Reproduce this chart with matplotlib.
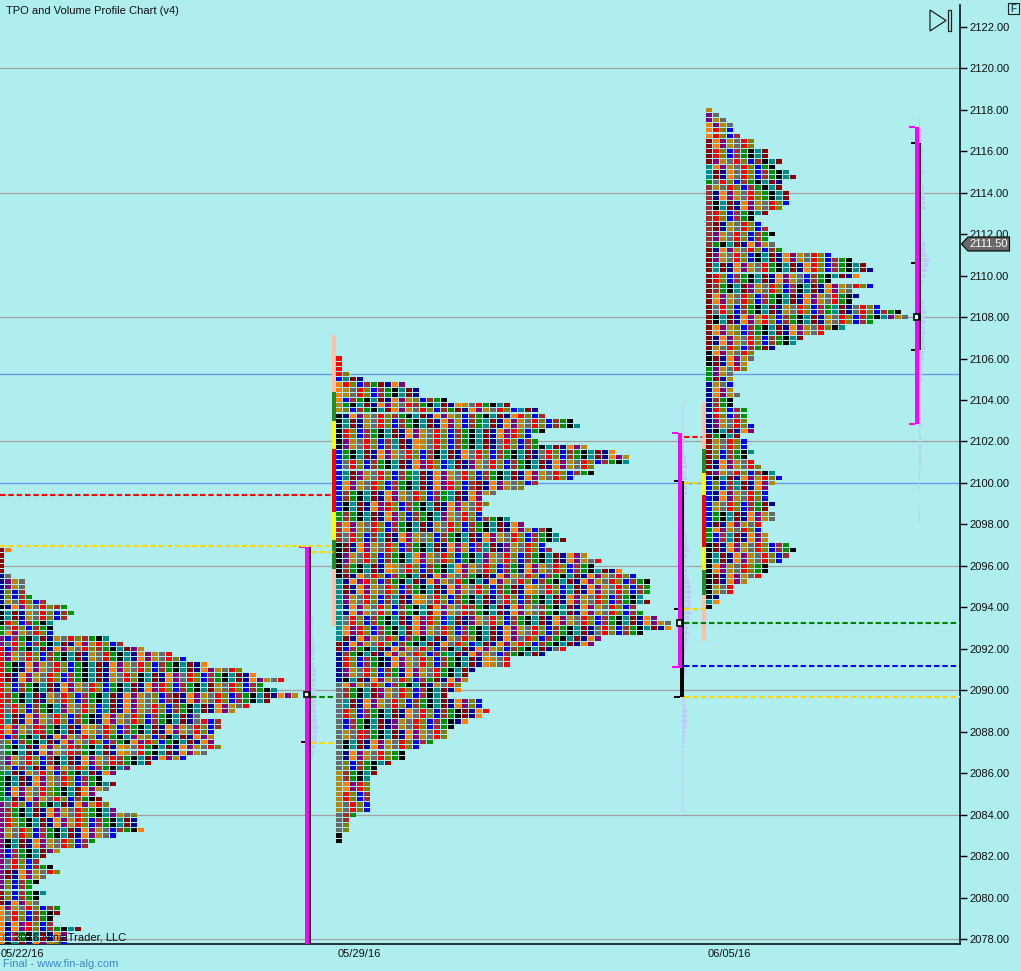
import matplotlib
matplotlib.use("Agg")
import matplotlib.pyplot as plt
from matplotlib.patches import Polygon, Rectangle

plt.rcParams['font.family'] = ['Liberation Sans', 'DejaVu Sans']

W, H = 1021, 971
BG = '#AFEEEE'

# ---- data -----------------------------------------------------------
# Row lengths (number of TPO cells) from the highest price downward
tpo_may22 = [2,1,1,1,1,2,4,4,4,5,7,10,11,10,8,8,8,16,18,21,25,27,30,35,37,41,38,40,43,39,
             36,34,29,32,32,31,31,31,32,30,27,22,19,17,15,17,16,14,15,16,17,20,20,20,21,
             17,14,13,9,7,6,8,9,7,6,5,7,6,6,9,9,8,8,12,10,10,10]
tpo_may29 = [1,1,1,2,4,10,12,12,16,25,29,30,34,35,30,28,29,36,40,42,42,37,37,34,29,27,23,21,
             22,21,21,25,27,31,32,33,30,31,36,38,37,41,43,45,45,45,44,45,43,44,46,48,48,44,
             38,37,33,30,25,25,20,19,19,18,18,16,21,21,22,21,19,17,16,16,14,12,10,10,8,6,6,
             5,5,5,5,5,5,5,3,2,2,2,1,1]
tpo_jun05 = [1,2,3,4,4,5,7,7,9,9,11,10,12,13,11,11,12,12,12,11,9,7,8,9,10,9,10,11,18,21,23,24,
             22,18,24,21,22,21,25,28,29,24,20,17,14,13,10,7,7,6,6,4,4,4,4,5,4,4,6,6,6,7,7,5,
             6,6,7,6,7,8,10,11,10,9,9,9,10,9,10,10,8,8,9,9,12,13,12,11,9,9,8,6,4,4,2,2,1]
top_price = [2096.75, 2106.0, 2118.0]

# first-column colour runs (letter, rows)
runs_may22 = [('M',5),('N',6),('K',4),('G',2),('P',2),('R',18),('Y',6),('G',6),('P',17),('M',3),('O',8)]
runs_may29 = [('R',4),('B',1),('O',4),('D',2),('K',7),('B',12),('G',2),('W',4),('K',7),('T',12),
              ('M',2),('N',6),('Y',17),('D',8),('Y',4),('K',2)]
runs_jun05 = [('D',1),('P',2),('O',3),('M',5),('T',3),('G',1),('W',12),('M',20),('K',3),('G',3),
              ('N',10),('M',8),('B',10),('G',3),('K',11),('T',1),('K',3)]
color_cycle = list("WGKTMNOPDYRLB")
skip_points = [9, 14, 6, 21, 11, 17, 4, 25, 8, 19, 13, 3, 16, 23, 7]
row_jitter = [1, 0, 3, 1, 5, 2, 0, 7, 4, 1, 9, 3, 6, 0, 2, 11, 5, 8, 1, 4, 10]

# Volume profile lengths, top to bottom
vol_may22 = [4,4,4,4,5,6,6,5,5,5,7,7,7,6,6,7,7,7,7,7,8,9,8,8,8,6,5,4]
vol_may29 = [1,1,1,1,1,1,2,2,2,2,4,4,5,4,5,5,5,5,3,3,3,3,3,3,3,5,5,5,7,5,4,4,5,5,7,9,9,9,8,9,9,
             7,6,6,7,5,5,4,3,3,2,4,3,2,2,1,2,3,4,5,5,5,5,3,3,2,2,2,1,1,1,1,1,1,1,1,1,1,1]
vol_jun05 = [1,1,3,3,3,3,4,4,4,4,5,3,3,5,5,6,6,6,3,3,3,3,4,4,6,6,8,10,9,8,6,4,3,3,3,5,5,7,6,6,5,
             6,5,5,6,5,4,4,3,3,3,1,1,1,1,1,1,2,2,2,1,2,2,2,2,2,2,2,1,1,1,1,0,0,0,1,1,1]

grey_lines = [2120, 2114, 2108, 2102, 2096, 2090, 2084, 2078]
blue_lines = [2105.25, 2100]
y_ticks = list(range(2078, 2124, 2))
date_labels = ['05/22/16', '05/29/16', '06/05/16']

# ---- styles ----------------------------------------------------------
PALETTE = dict(W='#A52A2A', G='#009000', K='#000000', T='#008B8B', M='#8B0000', N='#000090',
               O='#FF8000', P='#800080', D='#B8860B', Y='#696969', R='#FF0000', L='#808000',
               B='#0000FF')
VOL = '#B9CDF5'; MAG = '#FF00FF'; YEL = '#FFD700'; PEACH = '#FFC0A8'

PX_PER_PT = 20.74
Y_AT_2122 = 26.7


def price(y):
    return 2122 - (y - Y_AT_2122) / PX_PER_PT


fig = plt.figure(figsize=(W / 100, H / 100), dpi=100, facecolor=BG)
TOP, BOT, RIGHT = 5, 944, 960
ax = fig.add_axes([0, 1 - BOT / H, RIGHT / W, (BOT - TOP) / H], facecolor=BG)
ax.set_xlim(0, RIGHT)
ax.set_ylim(price(BOT), price(TOP))
for s in ('top', 'left'):
    ax.spines[s].set_visible(False)
for s in ('bottom', 'right'):
    ax.spines[s].set_linewidth(1.1)
ax.xaxis.set_visible(False)
ax.yaxis.tick_right()
ax.set_yticks(y_ticks)
ax.set_yticklabels([f'{v:.2f}' for v in y_ticks], fontsize=8, color='#101010')
ax.tick_params(axis='y', length=5, width=1.0, pad=1.5, color='black')

for v in grey_lines:
    ax.axhline(v, color='#A0A0A0', lw=0.9, zorder=1)
for v in blue_lines:
    ax.axhline(v, color='#6495ED', lw=0.9, zorder=1)


def draw_tpo(lengths, top, x0, runs):
    starts = [c for c, n in runs for _ in range(n)]
    ys, ls, cs = [], [], []
    for r, n in enumerate(lengths):
        base = color_cycle.index(starts[min(r, len(starts) - 1)])
        block = r // 2
        s1 = skip_points[block % 15]
        s2 = skip_points[(block + 6) % 15] + 5
        s3 = skip_points[(block + 11) % 15] + 12
        jit = row_jitter[block % len(row_jitter)]
        for k in range(n):
            idx = base + k + (jit if k >= 1 else 0) + 2 * (k >= s1) + (k >= s2) + 3 * (k >= s3)
            ys.append(top - 0.25 * r)
            ls.append(x0 + 7 * k)
            cs.append(PALETTE[color_cycle[idx % 13]])
    ax.barh(ys, [6] * len(ys), left=ls, height=0.2, color=cs, linewidth=0, zorder=3, antialiased=False)


draw_tpo(tpo_may22, top_price[0], -2, runs_may22)
draw_tpo(tpo_may29, top_price[1], 336, runs_may29)
draw_tpo(tpo_jun05, top_price[2], 706, runs_jun05)


def draw_vol(vals, top, x0):
    ys = [top - 0.25 * i for i in range(len(vals))]
    ax.barh(ys, vals, left=x0, height=0.2, color=VOL, linewidth=0, zorder=2, antialiased=False)


draw_vol(vol_may22, 2093.5, 309)
draw_vol(vol_may29, 2103.75, 682)
draw_vol(vol_jun05, 2117.5, 919)


def vbar(x0, x1, p0, p1, color, z=4):
    ax.add_patch(Rectangle((x0, p1), x1 - x0, p0 - p1, facecolor=color, edgecolor='none', zorder=z, antialiased=False))


def dash(x0, x1, p, color):
    ax.plot([x0, x1], [p, p], color=color, lw=1.5, ls=(0, (2.6, 1.4)), zorder=5)


def hline(x0, x1, p, color='black', lw=1.44):
    ax.plot([x0, x1], [p, p], color=color, lw=lw, solid_capstyle='butt', zorder=5)


def poc(x0, x1, p):
    ax.add_patch(Rectangle((x0 + 1, p - 0.14), x1 - x0 - 2, 0.28, facecolor='#E8FFFF', edgecolor='black',
                           lw=1.2, zorder=7))


# left range bars
for x0, x1, segs in [
    (332, 336, [(2107.15, 2104.4, PEACH), (2104.4, 2103, '#228B22'), (2103, 2101.65, '#FFFF00'),
                (2101.65, 2098.6, '#FF0000'), (2098.6, 2097.25, '#FFFF00'),
                (2097.25, 2095.85, '#228B22'), (2095.85, 2093.1, PEACH)]),
    (702, 706, [(2103.9, 2101.65, PEACH), (2101.65, 2100.5, '#228B22'), (2100.5, 2099.4, '#FFFF00'),
                (2099.4, 2096.9, '#FF0000'), (2096.9, 2095.8, '#FFFF00'),
                (2095.8, 2094.6, '#228B22'), (2094.6, 2092.4, PEACH)]),
]:
    for p0, p1, c in segs:
        vbar(x0, x1, p0, p1, c)

# May 22 right side
vbar(305, 309, 2096.93, 2077.0, MAG)
vbar(309, 311, 2096.93, 2077.0, 'black')
hline(299, 305, 2096.93, MAG)
hline(301, 305, 2087.5)
poc(303, 310, 2089.8)
dash(0, 332, 2096.97, YEL)
dash(311, 336, 2096.68, YEL)
dash(0, 332, 2099.43, '#FF0000')
dash(311, 336, 2089.7, '#008000')
dash(311, 336, 2087.47, YEL)

# May 29 right side
vbar(678, 682, 2102.4, 2091.1, MAG)
vbar(682, 684, 2100.1, 2091.1, 'black')
vbar(680, 684, 2091.1, 2089.7, 'black')
hline(672, 678, 2102.4, MAG)
hline(672, 678, 2091.15, MAG)
hline(674, 680, 2089.7)
hline(674, 678, 2100.1)
hline(674, 678, 2093.9)
poc(676, 683, 2093.25)
dash(684, 960, 2093.25, '#008000')
dash(684, 960, 2091.19, '#0000FF')
dash(684, 960, 2089.7, YEL)
dash(684, 706, 2093.94, YEL)
dash(684, 702, 2099.98, YEL)
dash(684, 702, 2102.24, '#FF0000')

# Jun 05 right side
vbar(915, 919, 2117.14, 2102.86, MAG)
vbar(919, 921, 2116.4, 2106.4, 'black')
hline(909, 915, 2117.14, MAG)
hline(909, 915, 2102.86, MAG)
for p in (2116.4, 2110.6, 2106.4):
    hline(911, 915, p)
poc(913, 920, 2108)

# ---- overlay in figure pixels ----------------------------------------
ov = fig.add_axes([0, 0, 1, 1], facecolor='none')
ov.set_xlim(0, W)
ov.set_ylim(H, 0)
ov.axis('off')

ov.text(6, 11, 'TPO and Volume Profile Chart (v4)', fontsize=8.0, color='#101010', va='center', ha='left')
ov.text(3, 938, '© 2016 NinjaTrader, LLC', fontsize=8.0, color='#101010', va='center', ha='left', zorder=9)
ov.text(3, 964, 'Final - www.fin-alg.com', fontsize=8.0, color='#3A87C8', va='center', ha='left')
for x, s in zip((22, 359, 729), date_labels):
    ov.text(x, 954, s, fontsize=8.0, color='#101010', va='center', ha='center')

# end-of-chart button
ov.add_patch(Polygon([(930, 10), (946, 20.5), (930, 31)], closed=True, fill=False, ec='#202020', lw=0.9))
ov.add_patch(Rectangle((947.5, 10), 3.5, 21, fill=False, ec='#202020', lw=0.9))
# F box
ov.add_patch(Rectangle((1007.5, 3.5), 11.5, 11, fill=False, ec='#202020', lw=0.8))
ov.text(1013.3, 9.2, 'F', fontsize=7, color='#206060', ha='center', va='center', fontweight='bold')
# last price marker (drawn over the 2112.00 tick label)
ov.add_patch(Polygon([(961.5, 244), (968, 237), (1009.5, 237), (1009.5, 251), (968, 251)], closed=True,
                     fc='#696969', ec='black', lw=0.8, zorder=9))
ov.text(988.5, 244.3, '2111.50', fontsize=8, color='white', ha='center', va='center', zorder=10)

fig.savefig('out.png', dpi=100, facecolor=BG)
